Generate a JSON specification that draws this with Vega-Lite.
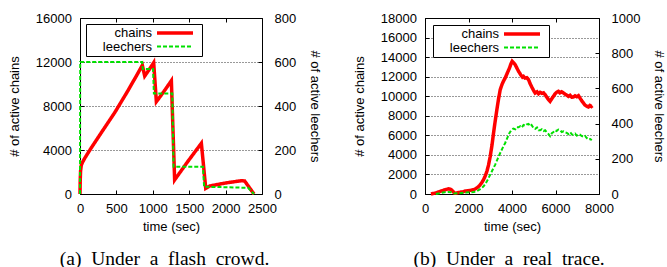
{
  "$schema": "https://vega.github.io/schema/vega-lite/v6.json",
  "padding": {"left": 7, "top": 11, "right": 0, "bottom": 0},
  "spacing": 30,
  "resolve": {"scale": {"color": "independent", "strokeDash": "independent", "strokeWidth": "independent"}},
  "config": {
    "view": {"stroke": "black", "strokeWidth": 1},
    "axis": {
      "labelFont": "Liberation Sans", "labelFontSize": 13, "labelColor": "black", "format": "d", "labelFlush": false,
      "titleFont": "Liberation Sans", "titleFontSize": 13, "titleFontWeight": "normal", "titleColor": "black",
      "tickColor": "black", "tickSize": -4, "domain": false, "grid": false, "labelPadding": 12.5
    },
    "legend": {
      "orient": "none", "labelFont": "Liberation Sans", "labelFontSize": 13, "labelColor": "black",
      "labelAlign": "right", "labelOffset": -30, "symbolOffset": 80, "symbolSize": 100, "symbolType": "M-3.6,0H3.6",
      "padding": 2, "rowPadding": -1, "strokeColor": "black", "fillColor": "white"
    },
    "title": {"font": "Liberation Serif", "fontSize": 19.5, "fontWeight": "normal", "color": "black", "orient": "bottom", "offset": 16, "anchor": "middle", "frame": "bounds"}
  },
  "datasets": {
    "a": [
      {"s": "chains", "t": 0, "v": 0}, {"s": "chains", "t": 3, "v": 1200}, {"s": "chains", "t": 8, "v": 2100},
      {"s": "chains", "t": 18, "v": 2640}, {"s": "chains", "t": 40, "v": 2950}, {"s": "chains", "t": 64, "v": 3240},
      {"s": "chains", "t": 150, "v": 4150}, {"s": "chains", "t": 300, "v": 5650}, {"s": "chains", "t": 477, "v": 7400},
      {"s": "chains", "t": 650, "v": 9300}, {"s": "chains", "t": 780, "v": 10800}, {"s": "chains", "t": 856, "v": 11700},
      {"s": "chains", "t": 889, "v": 10730}, {"s": "chains", "t": 950, "v": 11300}, {"s": "chains", "t": 1012, "v": 11940},
      {"s": "chains", "t": 1049, "v": 8390}, {"s": "chains", "t": 1150, "v": 9300}, {"s": "chains", "t": 1255, "v": 10300},
      {"s": "chains", "t": 1300, "v": 1280}, {"s": "chains", "t": 1480, "v": 2950}, {"s": "chains", "t": 1667, "v": 4610},
      {"s": "chains", "t": 1727, "v": 520}, {"s": "chains", "t": 1782, "v": 730}, {"s": "chains", "t": 2000, "v": 1000},
      {"s": "chains", "t": 2216, "v": 1210}, {"s": "chains", "t": 2262, "v": 1180}, {"s": "chains", "t": 2377, "v": 120},
      {"s": "chains", "t": 2390, "v": 0},
      {"s": "leechers", "t": 0, "v": 0}, {"s": "leechers", "t": 3, "v": 600}, {"s": "leechers", "t": 852, "v": 600},
      {"s": "leechers", "t": 862, "v": 568}, {"s": "leechers", "t": 1003, "v": 568}, {"s": "leechers", "t": 1015, "v": 457},
      {"s": "leechers", "t": 1268, "v": 457}, {"s": "leechers", "t": 1285, "v": 124}, {"s": "leechers", "t": 1688, "v": 124},
      {"s": "leechers", "t": 1705, "v": 33}, {"s": "leechers", "t": 2000, "v": 31}, {"s": "leechers", "t": 2308, "v": 28},
      {"s": "leechers", "t": 2390, "v": 0}
    ],
    "b": [
      {"s": "chains", "t": 275, "v": 0}, {"s": "chains", "t": 400, "v": 60}, {"s": "chains", "t": 550, "v": 150},
      {"s": "chains", "t": 700, "v": 270}, {"s": "chains", "t": 850, "v": 380}, {"s": "chains", "t": 1000, "v": 480},
      {"s": "chains", "t": 1086, "v": 540}, {"s": "chains", "t": 1150, "v": 500}, {"s": "chains", "t": 1220, "v": 420},
      {"s": "chains", "t": 1285, "v": 270}, {"s": "chains", "t": 1340, "v": 120}, {"s": "chains", "t": 1392, "v": 80},
      {"s": "chains", "t": 1450, "v": 100}, {"s": "chains", "t": 1550, "v": 150}, {"s": "chains", "t": 1650, "v": 200},
      {"s": "chains", "t": 1750, "v": 220}, {"s": "chains", "t": 1850, "v": 300}, {"s": "chains", "t": 1950, "v": 330},
      {"s": "chains", "t": 2050, "v": 360}, {"s": "chains", "t": 2150, "v": 400}, {"s": "chains", "t": 2234, "v": 440},
      {"s": "chains", "t": 2300, "v": 520}, {"s": "chains", "t": 2400, "v": 650}, {"s": "chains", "t": 2480, "v": 800},
      {"s": "chains", "t": 2540, "v": 950}, {"s": "chains", "t": 2620, "v": 1200}, {"s": "chains", "t": 2693, "v": 1470},
      {"s": "chains", "t": 2770, "v": 1850}, {"s": "chains", "t": 2846, "v": 2320}, {"s": "chains", "t": 2920, "v": 2950},
      {"s": "chains", "t": 3000, "v": 3850}, {"s": "chains", "t": 3080, "v": 5000}, {"s": "chains", "t": 3152, "v": 6240},
      {"s": "chains", "t": 3230, "v": 7500}, {"s": "chains", "t": 3305, "v": 8630}, {"s": "chains", "t": 3380, "v": 9700},
      {"s": "chains", "t": 3458, "v": 10670}, {"s": "chains", "t": 3540, "v": 11200}, {"s": "chains", "t": 3620, "v": 11600},
      {"s": "chains", "t": 3687, "v": 11860}, {"s": "chains", "t": 3780, "v": 12350}, {"s": "chains", "t": 3886, "v": 12890},
      {"s": "chains", "t": 3950, "v": 13300}, {"s": "chains", "t": 4008, "v": 13570}, {"s": "chains", "t": 4060, "v": 13450},
      {"s": "chains", "t": 4146, "v": 13230}, {"s": "chains", "t": 4220, "v": 12900}, {"s": "chains", "t": 4300, "v": 12550},
      {"s": "chains", "t": 4400, "v": 12200}, {"s": "chains", "t": 4480, "v": 11950}, {"s": "chains", "t": 4530, "v": 12030},
      {"s": "chains", "t": 4600, "v": 11850}, {"s": "chains", "t": 4680, "v": 11900}, {"s": "chains", "t": 4760, "v": 11700},
      {"s": "chains", "t": 4830, "v": 11300}, {"s": "chains", "t": 4910, "v": 10940}, {"s": "chains", "t": 4990, "v": 10600},
      {"s": "chains", "t": 5064, "v": 10330}, {"s": "chains", "t": 5150, "v": 10450}, {"s": "chains", "t": 5220, "v": 10250},
      {"s": "chains", "t": 5294, "v": 10400}, {"s": "chains", "t": 5380, "v": 10300}, {"s": "chains", "t": 5450, "v": 10350},
      {"s": "chains", "t": 5523, "v": 10160}, {"s": "chains", "t": 5600, "v": 9900}, {"s": "chains", "t": 5680, "v": 9650},
      {"s": "chains", "t": 5753, "v": 9480}, {"s": "chains", "t": 5830, "v": 9750}, {"s": "chains", "t": 5906, "v": 9990},
      {"s": "chains", "t": 5980, "v": 10250}, {"s": "chains", "t": 6050, "v": 10400}, {"s": "chains", "t": 6135, "v": 10500},
      {"s": "chains", "t": 6200, "v": 10350}, {"s": "chains", "t": 6280, "v": 10450}, {"s": "chains", "t": 6365, "v": 10330},
      {"s": "chains", "t": 6450, "v": 10200}, {"s": "chains", "t": 6520, "v": 10100}, {"s": "chains", "t": 6595, "v": 9990},
      {"s": "chains", "t": 6670, "v": 10100}, {"s": "chains", "t": 6750, "v": 9900}, {"s": "chains", "t": 6824, "v": 9920},
      {"s": "chains", "t": 6900, "v": 10050}, {"s": "chains", "t": 6980, "v": 9950}, {"s": "chains", "t": 7054, "v": 10060},
      {"s": "chains", "t": 7130, "v": 9800}, {"s": "chains", "t": 7200, "v": 9550}, {"s": "chains", "t": 7283, "v": 9310},
      {"s": "chains", "t": 7350, "v": 9100}, {"s": "chains", "t": 7420, "v": 9000}, {"s": "chains", "t": 7513, "v": 8900},
      {"s": "chains", "t": 7580, "v": 9050}, {"s": "chains", "t": 7650, "v": 8950}, {"s": "chains", "t": 7696, "v": 9030},
      {"s": "leechers", "t": 500, "v": 0}, {"s": "leechers", "t": 700, "v": 5}, {"s": "leechers", "t": 900, "v": 10},
      {"s": "leechers", "t": 1050, "v": 12}, {"s": "leechers", "t": 1200, "v": 10}, {"s": "leechers", "t": 1350, "v": 3},
      {"s": "leechers", "t": 1500, "v": 4}, {"s": "leechers", "t": 1700, "v": 6}, {"s": "leechers", "t": 1900, "v": 8},
      {"s": "leechers", "t": 2100, "v": 10}, {"s": "leechers", "t": 2250, "v": 12}, {"s": "leechers", "t": 2387, "v": 16},
      {"s": "leechers", "t": 2500, "v": 25}, {"s": "leechers", "t": 2600, "v": 33}, {"s": "leechers", "t": 2693, "v": 44},
      {"s": "leechers", "t": 2770, "v": 57}, {"s": "leechers", "t": 2846, "v": 72}, {"s": "leechers", "t": 2920, "v": 90},
      {"s": "leechers", "t": 3000, "v": 110}, {"s": "leechers", "t": 3110, "v": 138}, {"s": "leechers", "t": 3228, "v": 167},
      {"s": "leechers", "t": 3340, "v": 200}, {"s": "leechers", "t": 3458, "v": 233}, {"s": "leechers", "t": 3570, "v": 262},
      {"s": "leechers", "t": 3687, "v": 290}, {"s": "leechers", "t": 3790, "v": 320}, {"s": "leechers", "t": 3886, "v": 347},
      {"s": "leechers", "t": 3950, "v": 360}, {"s": "leechers", "t": 3993, "v": 365}, {"s": "leechers", "t": 4060, "v": 372},
      {"s": "leechers", "t": 4150, "v": 368}, {"s": "leechers", "t": 4220, "v": 380}, {"s": "leechers", "t": 4300, "v": 379},
      {"s": "leechers", "t": 4380, "v": 385}, {"s": "leechers", "t": 4450, "v": 378}, {"s": "leechers", "t": 4530, "v": 392},
      {"s": "leechers", "t": 4606, "v": 388}, {"s": "leechers", "t": 4680, "v": 396}, {"s": "leechers", "t": 4760, "v": 398},
      {"s": "leechers", "t": 4830, "v": 385}, {"s": "leechers", "t": 4900, "v": 392}, {"s": "leechers", "t": 4990, "v": 375},
      {"s": "leechers", "t": 5070, "v": 370}, {"s": "leechers", "t": 5150, "v": 378}, {"s": "leechers", "t": 5220, "v": 362},
      {"s": "leechers", "t": 5294, "v": 362}, {"s": "leechers", "t": 5370, "v": 368}, {"s": "leechers", "t": 5450, "v": 358},
      {"s": "leechers", "t": 5523, "v": 362}, {"s": "leechers", "t": 5600, "v": 350}, {"s": "leechers", "t": 5680, "v": 340},
      {"s": "leechers", "t": 5753, "v": 328}, {"s": "leechers", "t": 5830, "v": 345}, {"s": "leechers", "t": 5906, "v": 352},
      {"s": "leechers", "t": 5980, "v": 362}, {"s": "leechers", "t": 6050, "v": 358}, {"s": "leechers", "t": 6130, "v": 366},
      {"s": "leechers", "t": 6212, "v": 362}, {"s": "leechers", "t": 6290, "v": 352}, {"s": "leechers", "t": 6370, "v": 356},
      {"s": "leechers", "t": 6450, "v": 350}, {"s": "leechers", "t": 6518, "v": 347}, {"s": "leechers", "t": 6600, "v": 340},
      {"s": "leechers", "t": 6680, "v": 350}, {"s": "leechers", "t": 6760, "v": 338}, {"s": "leechers", "t": 6824, "v": 337},
      {"s": "leechers", "t": 6900, "v": 343}, {"s": "leechers", "t": 6980, "v": 332}, {"s": "leechers", "t": 7054, "v": 340},
      {"s": "leechers", "t": 7130, "v": 337}, {"s": "leechers", "t": 7200, "v": 330}, {"s": "leechers", "t": 7280, "v": 325},
      {"s": "leechers", "t": 7360, "v": 330}, {"s": "leechers", "t": 7436, "v": 318}, {"s": "leechers", "t": 7520, "v": 310},
      {"s": "leechers", "t": 7600, "v": 312}, {"s": "leechers", "t": 7666, "v": 305}
    ]
  },
  "hconcat": [
    {
      "width": 182, "height": 176,
      "title": {"text": "(a)\u00a0 Under\u00a0 a\u00a0 flash\u00a0 crowd."},
      "data": {"name": "a"},
      "resolve": {"scale": {"y": "independent"}, "axis": {"x": "independent"}},
      "layer": [
        {
          "transform": [{"filter": "datum.s == 'chains'"}],
          "mark": {"type": "line"},
          "encoding": {
            "x": {"field": "t", "type": "quantitative", "scale": {"domain": [0, 2500]},
                  "axis": {"orient": "bottom", "values": [0, 500, 1000, 1500, 2000, 2500], "title": "time (sec)", "titlePadding": 5}},
            "y": {"field": "v", "type": "quantitative", "scale": {"domain": [0, 16000]},
                  "axis": {"orient": "left", "values": [0, 4000, 8000, 12000, 16000], "title": "# of active chains", "titlePadding": 14,
                           "grid": true, "gridDash": [1, 2], "gridColor": "black", "gridOpacity": 0.8}},
            "color": {"field": "s", "type": "nominal", "scale": {"domain": ["chains", "leechers"], "range": ["#ff0000", "#00e000"]},
                      "legend": {"title": null, "legendX": 6, "legendY": 6}},
            "strokeDash": {"field": "s", "type": "nominal", "scale": {"domain": ["chains", "leechers"], "range": [[1, 0], [4, 2]]},
                      "legend": {"title": null, "legendX": 6, "legendY": 6}},
            "strokeWidth": {"field": "s", "type": "nominal", "scale": {"domain": ["chains", "leechers"], "range": [3.5, 2]},
                      "legend": {"title": null, "legendX": 6, "legendY": 6}}
          }
        },
        {
          "transform": [{"filter": "datum.s == 'leechers'"}],
          "mark": {"type": "line"},
          "encoding": {
            "x": {"field": "t", "type": "quantitative", "scale": {"domain": [0, 2500]},
                  "axis": {"orient": "top", "values": [0, 500, 1000, 1500, 2000, 2500], "labels": false, "title": null}},
            "y": {"field": "v", "type": "quantitative", "scale": {"domain": [0, 800]},
                  "axis": {"orient": "right", "values": [0, 200, 400, 600, 800], "title": "# of active leechers", "titlePadding": 12, "labelPadding": 16}},
            "color": {"field": "s", "type": "nominal"},
            "strokeDash": {"field": "s", "type": "nominal"},
            "strokeWidth": {"field": "s", "type": "nominal"}
          }
        }
      ]
    },
    {
      "width": 174, "height": 176,
      "title": {"text": "(b)\u00a0 Under\u00a0 a\u00a0 real\u00a0 trace."},
      "data": {"name": "b"},
      "resolve": {"scale": {"y": "independent"}, "axis": {"x": "independent"}},
      "layer": [
        {
          "transform": [{"filter": "datum.s == 'chains'"}],
          "mark": {"type": "line"},
          "encoding": {
            "x": {"field": "t", "type": "quantitative", "scale": {"domain": [0, 8000]},
                  "axis": {"orient": "bottom", "values": [0, 2000, 4000, 6000, 8000], "title": "time (sec)", "titlePadding": 5}},
            "y": {"field": "v", "type": "quantitative", "scale": {"domain": [0, 18000]},
                  "axis": {"orient": "left", "values": [0, 2000, 4000, 6000, 8000, 10000, 12000, 14000, 16000, 18000], "title": "# of active chains", "titlePadding": 14,
                           "grid": true, "gridDash": [1, 2], "gridColor": "black", "gridOpacity": 0.8}},
            "color": {"field": "s", "type": "nominal", "scale": {"domain": ["chains", "leechers"], "range": ["#ff0000", "#00e000"]},
                      "legend": {"title": null, "legendX": 8, "legendY": 7}},
            "strokeDash": {"field": "s", "type": "nominal", "scale": {"domain": ["chains", "leechers"], "range": [[1, 0], [4, 2]]},
                      "legend": {"title": null, "legendX": 8, "legendY": 7}},
            "strokeWidth": {"field": "s", "type": "nominal", "scale": {"domain": ["chains", "leechers"], "range": [3.5, 2]},
                      "legend": {"title": null, "legendX": 8, "legendY": 7}}
          }
        },
        {
          "transform": [{"filter": "datum.s == 'leechers'"}],
          "mark": {"type": "line"},
          "encoding": {
            "x": {"field": "t", "type": "quantitative", "scale": {"domain": [0, 8000]},
                  "axis": {"orient": "top", "values": [0, 2000, 4000, 6000, 8000], "labels": false, "title": null}},
            "y": {"field": "v", "type": "quantitative", "scale": {"domain": [0, 1000]},
                  "axis": {"orient": "right", "values": [0, 200, 400, 600, 800, 1000], "title": "# of active leechers", "titlePadding": 12, "labelPadding": 16}},
            "color": {"field": "s", "type": "nominal"},
            "strokeDash": {"field": "s", "type": "nominal"},
            "strokeWidth": {"field": "s", "type": "nominal"}
          }
        }
      ]
    }
  ]
}
